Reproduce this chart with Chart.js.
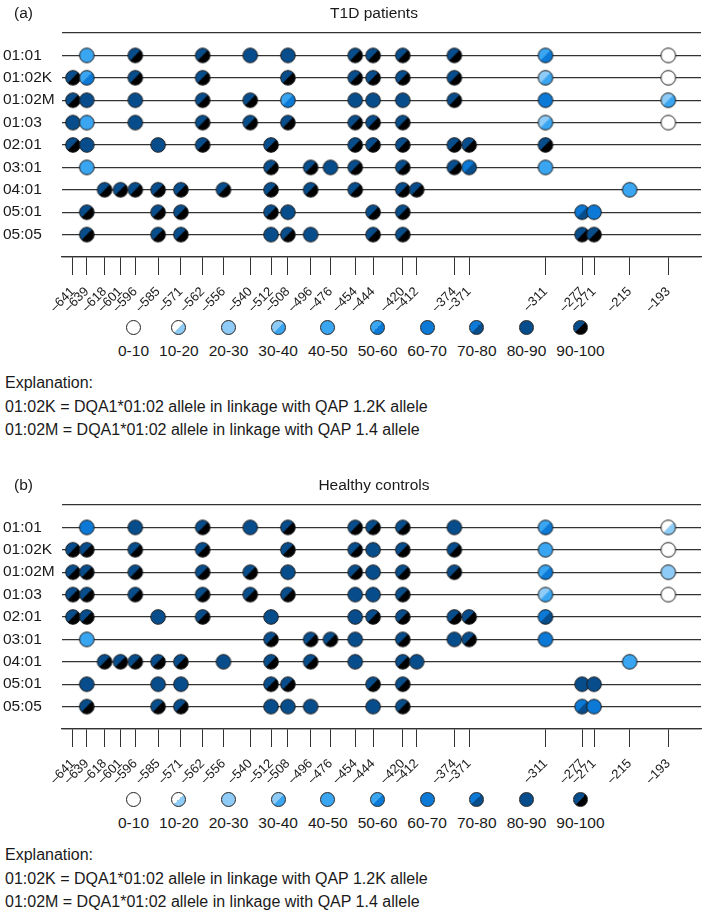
<!DOCTYPE html>
<html>
<head>
<meta charset="utf-8">
<script src="https://cdn.jsdelivr.net/npm/chart.js@4/dist/chart.umd.min.js"></script>
<style>
  body { margin: 0; background: #fff; font-family: "Liberation Sans", Arial, Helvetica, sans-serif; color: #1a1a1a; }
  .panel { position: relative; width: 709px; height: 472px; }
  .panel canvas { position: absolute; left: 0; top: 0; }
  .tag { position: absolute; left: 14px; top: 4px; font-size: 15.5px; line-height: 17px; }
  .title { position: absolute; left: 62px; width: 624px; top: 4px; text-align: center; font-size: 15.5px; line-height: 17px; }
  .legend { position: absolute; left: 118px; top: 320px; display: flex; gap: 10px; }
  .legend .item { display: flex; flex-direction: column; align-items: center; }
  .legend .dot { width: 13px; height: 13px; border-radius: 50%; border: 1px solid #222; }
  .legend .lab { font-size: 15.5px; line-height: 17px; margin-top: 7px; }
  .expl { position: absolute; left: 5px; top: 371px; font-size: 16px; line-height: 23.5px; }
</style>
</head>
<body>
<div id="fig"></div>
<script>
'use strict';

// promoter positions (x axis) and alleles (rows)
const POSITIONS = [-641, -639, -618, -601, -596, -585, -571, -562, -556, -540, -512, -508, -496,
  -476, -454, -444, -420, -412, -374, -371, -311, -277, -271, -215, -193];
const ALLELES = ['01:01', '01:02K', '01:02M', '01:03', '02:01', '03:01', '04:01', '05:01', '05:05'];
const BINS = ['0-10', '10-20', '20-30', '30-40', '40-50', '50-60', '60-70', '70-80', '80-90', '90-100'];

// percentage class (lower bound) per allele row and position, null = no site
const _ = null;
const T1D = [
  [_, 40, _, _, 90, _, _, 90, _, 80, _, 80, _, _, 90, 90, 90, _, 90, _, 50, _, _, _, 0],
  [90, 50, _, _, 90, _, _, 90, _, _, _, 90, _, _, 90, 90, 90, _, 90, _, 30, _, _, _, 0],
  [90, 80, _, _, 80, _, _, 90, _, 90, _, 50, _, _, 80, 80, 80, _, 90, _, 60, _, _, _, 30],
  [80, 40, _, _, 80, _, _, 90, _, 90, _, 90, _, _, 90, 90, 90, _, _, _, 30, _, _, _, 0],
  [90, 80, _, _, _, 80, _, 90, _, _, 90, _, _, _, 90, 90, 90, _, 90, 90, 90, _, _, _, _],
  [_, 40, _, _, _, _, _, _, _, _, 90, _, 90, 80, 90, _, 90, _, 90, 70, 40, _, _, _, _],
  [_, _, 90, 90, 90, 90, 90, _, 90, _, 90, _, 90, _, 90, _, 90, 90, _, _, _, _, _, 40, _],
  [_, 90, _, _, _, 90, 90, _, _, _, 90, 80, _, _, _, 90, 90, _, _, _, _, 70, 60, _, _],
  [_, 90, _, _, _, 90, 90, _, _, _, 80, 90, 80, _, _, 90, 90, _, _, _, _, 90, 90, _, _]
];
const CONTROLS = [
  [_, 60, _, _, 80, _, _, 90, _, 80, _, 90, _, _, 90, 90, 90, _, 80, _, 50, _, _, _, 10],
  [90, 90, _, _, 90, _, _, 90, _, _, _, 90, _, _, 90, 80, 90, _, 90, _, 40, _, _, _, 0],
  [90, 90, _, _, 90, _, _, 90, _, 90, _, 80, _, _, 90, 80, 90, _, 90, _, 50, _, _, _, 20],
  [90, 90, _, _, 90, _, _, 90, _, 90, _, 90, _, _, 80, 80, 90, _, _, _, 30, _, _, _, 0],
  [90, 90, _, _, _, 80, _, 90, _, _, 80, _, _, _, 80, 90, 90, _, 90, 90, 70, _, _, _, _],
  [_, 40, _, _, _, _, _, _, _, _, 90, _, 90, 90, 80, _, 90, _, 80, 90, 60, _, _, _, _],
  [_, _, 90, 90, 90, 90, 90, _, 80, _, 90, _, 90, _, 80, _, 90, 80, _, _, _, _, _, 40, _],
  [_, 80, _, _, _, 80, 80, _, _, _, 90, 90, _, _, _, 90, 90, _, _, _, _, 80, 80, _, _],
  [_, 90, _, _, _, 90, 90, _, _, _, 80, 80, 80, _, _, 80, 90, _, _, _, _, 70, 60, _, _]
];

// layout: the original figure spaces the positions by hand, not to scale
const GAPS = [14, 18, 16, 15, 23, 23, 22, 21, 27, 21, 17, 23, 20, 25, 18, 30, 14, 38, 15, 77, 37, 12, 36, 39];
const SLOT = GAPS.reduce((acc, g) => { acc.push(acc[acc.length - 1] + g); return acc; }, [0]);
const SHADES = ['#ffffff', '#8ecbf6', '#3aa5f1', '#0b79d5', '#084d8b', '#000000'];

Chart.defaults.font.family = '"Liberation Sans", Arial, Helvetica, sans-serif';
Chart.defaults.color = '#1a1a1a';

function shadePair(bin) {
  return [SHADES[Math.floor(bin / 2)], SHADES[Math.ceil(bin / 2)]];
}

function makeIcon(bin) {
  const c = document.createElement('canvas');
  c.width = c.height = 18;
  const g = c.getContext('2d');
  const r = 7.3;
  const [a, b] = shadePair(bin);
  g.fillStyle = a;
  g.beginPath(); g.arc(9, 9, r, 0, Math.PI * 2); g.fill();
  if (a !== b) {
    g.fillStyle = b;
    g.beginPath(); g.arc(9, 9, r, -Math.PI / 4, Math.PI * 3 / 4); g.closePath(); g.fill();
  }
  g.strokeStyle = '#1e1e1e';
  g.lineWidth = 1;
  g.beginPath(); g.arc(9, 9, r, 0, Math.PI * 2); g.stroke();
  return c;
}
const ICONS = BINS.map((_b, i) => makeIcon(i));

const fmtPos = (p) => '\u2013' + Math.abs(p);

function panel(tag, title, rows) {
  const el = document.createElement('div');
  el.className = 'panel';
  el.innerHTML = `
    <canvas width="709" height="310"></canvas>
    <div class="tag">(${tag})</div>
    <div class="title">${title}</div>
    <div class="legend">${BINS.map((b, i) => {
      const [c1, c2] = shadePair(i);
      return `<div class="item"><div class="dot" style="background:linear-gradient(135deg, ${c1} 50%, ${c2} 50%)"></div><div class="lab">${b}</div></div>`;
    }).join('')}</div>
    <div class="expl">Explanation:<br>01:02K = DQA1*01:02 allele in linkage with QAP 1.2K allele<br>01:02M = DQA1*01:02 allele in linkage with QAP 1.4 allele</div>`;
  document.getElementById('fig').appendChild(el);

  const points = [];
  rows.forEach((row, r) => row.forEach((v, c) => {
    if (v !== null) points.push({ x: SLOT[c], y: r, bin: v / 10 });
  }));

  new Chart(el.querySelector('canvas'), {
    type: 'scatter',
    data: {
      datasets: [{
        data: points,
        pointStyle: (ctx) => ICONS[ctx.raw ? ctx.raw.bin : 0],
        pointRadius: 7,
        pointHoverRadius: 7
      }]
    },
    options: {
      responsive: false,
      animation: false,
      events: [],
      layout: { padding: { top: 33, right: 2, left: 3, bottom: 0 } },
      plugins: { legend: { display: false }, tooltip: { enabled: false } },
      scales: {
        x: {
          type: 'linear',
          min: -11,
          max: 634,
          afterBuildTicks: (s) => { s.ticks = SLOT.map((v) => ({ value: v })); },
          afterFit: (s) => { s.height = 53; },
          ticks: {
            autoSkip: false,
            minRotation: 45,
            maxRotation: 45,
            padding: 9,
            font: { size: 13 },
            color: '#1a1a1a',
            callback: (v, i) => fmtPos(POSITIONS[i])
          },
          grid: { drawOnChartArea: false, tickLength: 18, tickColor: '#333', tickWidth: 1 },
          border: { color: '#333', width: 1.3 }
        },
        y: {
          type: 'linear',
          reverse: true,
          min: -1,
          max: ALLELES.length,
          afterBuildTicks: (s) => {
            s.ticks = [];
            for (let i = -1; i <= ALLELES.length; i++) s.ticks.push({ value: i });
          },
          afterFit: (s) => { s.width = 59; },
          ticks: {
            crossAlign: 'far',
            font: { size: 15.5 },
            color: '#1a1a1a',
            callback: (v) => ALLELES[v] || ''
          },
          grid: { color: '#333', lineWidth: 1.2, drawTicks: false },
          border: { display: false }
        }
      }
    }
  });
}

panel('a', 'T1D patients', T1D);
panel('b', 'Healthy controls', CONTROLS);
</script>
</body>
</html>
